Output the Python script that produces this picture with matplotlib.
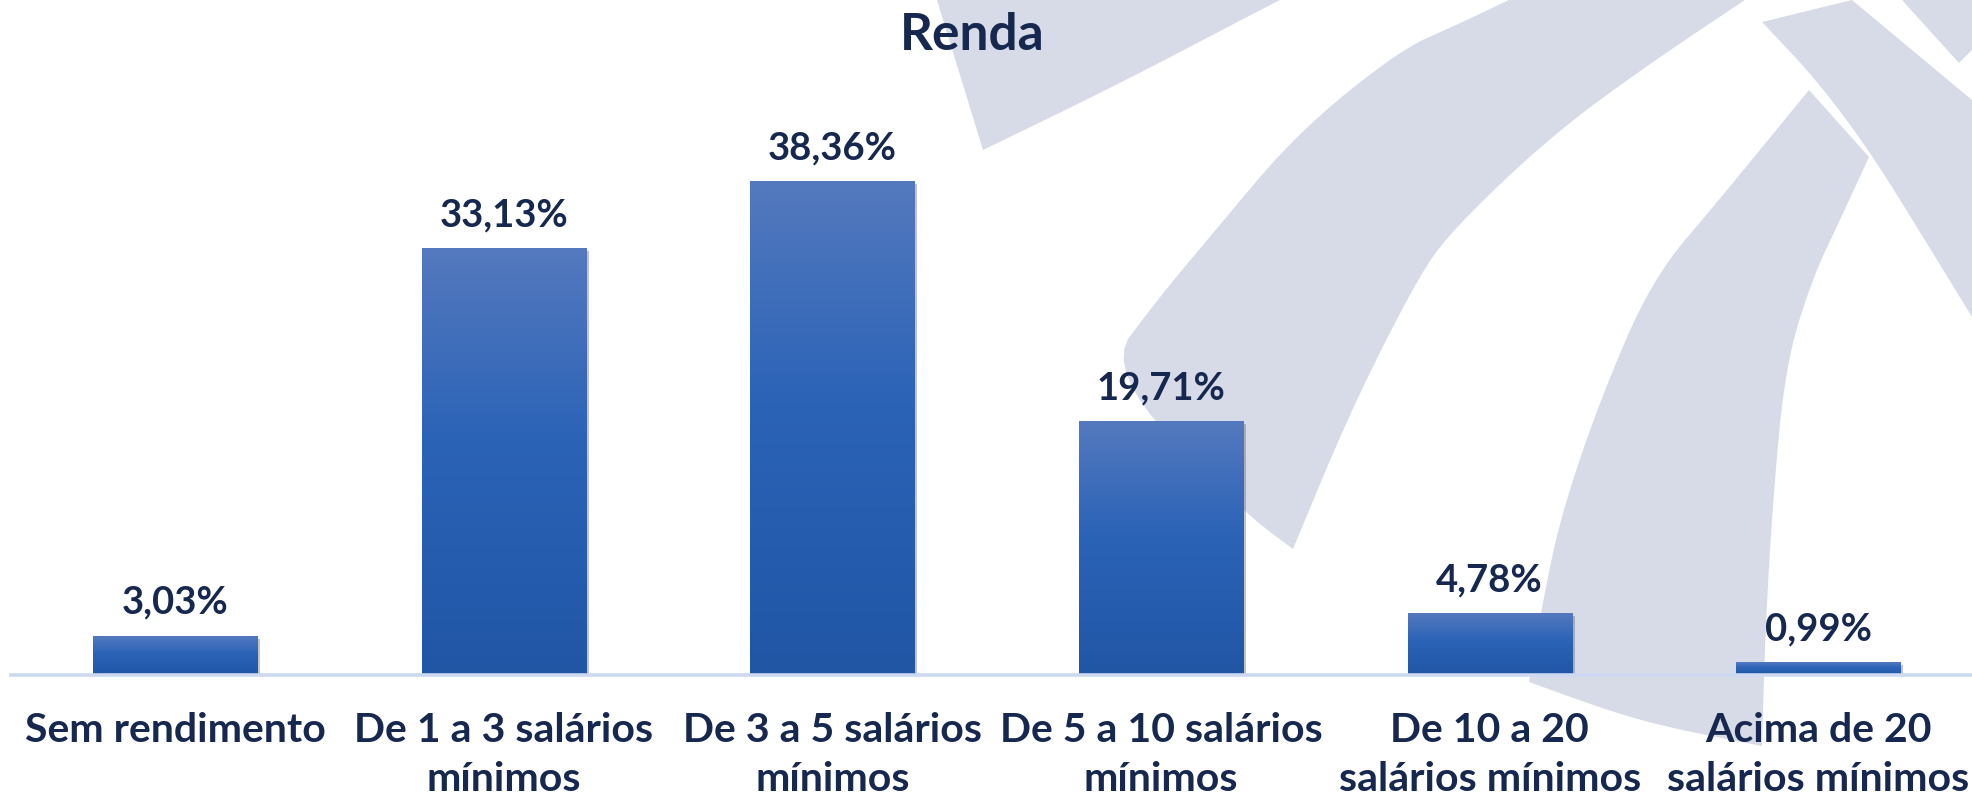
import numpy as np
import matplotlib.pyplot as plt
import matplotlib.patheffects as pe
from matplotlib.patches import Polygon
from matplotlib.colors import LinearSegmentedColormap

# data
categories = ["Sem rendimento",
              "De 1 a 3 salários\nmínimos",
              "De 3 a 5 salários\nmínimos",
              "De 5 a 10 salários\nmínimos",
              "De 10 a 20\nsalários mínimos",
              "Acima de 20\nsalários mínimos"]
values = [3.03, 33.13, 38.36, 19.71, 4.78, 0.99]
value_labels = ["3,03%", "33,13%", "38,36%", "19,71%", "4,78%", "0,99%"]
title = "Renda"

W, H = 1972, 799
navy = '#16284f'
plt.rcParams['font.family'] = ['Lato', 'DejaVu Sans']


def smooth(pts, sharp, n=3):
    # corner cutting, keeps the points flagged as sharp
    pts = [np.array(p, float) for p in pts]
    flags = list(sharp)
    for _ in range(n):
        out, fl = [], []
        m = len(pts)
        for i in range(m):
            p, a, b = pts[i], pts[i - 1], pts[(i + 1) % m]
            if flags[i]:
                out.append(p); fl.append(True)
            else:
                out += [0.75 * p + 0.25 * a, 0.75 * p + 0.25 * b]
                fl += [False, False]
        pts, flags = out, fl
    return np.array(pts)


fig = plt.figure(figsize=(W / 100, H / 100), dpi=100)
fig.patch.set_facecolor('white')

# faint logo watermark in the background (pixel coords, y down)
bg = fig.add_axes([0, 0, 1, 1])
bg.set_xlim(0, W)
bg.set_ylim(H, 0)
bg.axis('off')
watermark = [
    ([(937, 0), (983, 150), (1113, 87), (1247, 17), (1280, 0)],
     [1, 1, 0, 0, 1]),
    ([(1509, 0), (1452, 27), (1400, 50), (1297, 133), (1213, 233), (1157, 300),
      (1105, 370), (1243, 512), (1293, 549), (1350, 412), (1417, 279),
      (1452, 230), (1552, 135), (1652, 62), (1745, 0)],
     [1, 0, 0, 0, 0, 0, 0, 0, 1, 0, 0, 0, 0, 0, 1]),
    ([(1762, 22), (1852, 0), (1972, 100), (1972, 317), (1920, 232),
      (1869, 150), (1815, 78)],
     [1, 1, 1, 1, 0, 0, 0]),
    ([(1809, 90), (1869, 157), (1840, 220), (1812, 279), (1785, 367),
      (1772, 512), (1765, 640), (1762, 746), (1640, 722), (1529, 682),
      (1545, 590), (1562, 512), (1600, 400), (1652, 279), (1719, 200)],
     [1, 1, 0, 0, 0, 0, 0, 1, 0, 1, 0, 0, 0, 0, 0]),
    ([(1902, 0), (1972, 0), (1972, 50), (1959, 63)],
     [1, 1, 1, 1]),
]
for pts, sharp in watermark:
    bg.add_patch(Polygon(smooth(pts, sharp), closed=True, fc='#d7dbe7', ec='none'))

ax = fig.add_axes([11 / W, 124 / H, 1961 / W, 675 / H])
ax.patch.set_alpha(0)
x = np.arange(len(values))

bars = ax.bar(x, values, width=0.5, color='#2b63b6', zorder=2,
              path_effects=[pe.SimplePatchShadow(offset=(2, -2), shadow_rgbFace='#555555', alpha=0.35),
                            pe.Normal()])

cmap = LinearSegmentedColormap.from_list(
    'bar', [(0, '#2156a5'), (0.55, '#2b63b7'), (1, '#5479be')])
grad = np.linspace(0, 1, 256).reshape(-1, 1)
for b in bars:
    x0, w, h = b.get_x(), b.get_width(), b.get_height()
    ax.imshow(grad, extent=[x0, x0 + w, 0, h], origin='lower', cmap=cmap,
              aspect='auto', zorder=3, interpolation='bilinear')

for xi, v, lbl in zip(x, values, value_labels):
    ax.annotate(lbl, (xi, v), xytext=(0, 16), textcoords='offset points',
                ha='center', va='baseline', fontsize=27.5, fontweight='bold', color=navy)

ax.set_xlim(-0.5, -0.5 + 1961 / 328.6)
ax.set_ylim(0, 675 / 12.87)

for s in ['top', 'left', 'right']:
    ax.spines[s].set_visible(False)
ax.spines['bottom'].set_color('#ccd9f1')
ax.spines['bottom'].set_linewidth(2.6)
ax.spines['bottom'].set_zorder(4)
ax.set_yticks([])
ax.set_xticks(x, categories)
ax.tick_params(axis='x', length=0, pad=26.5, labelsize=29.5, labelcolor=navy)
for t in ax.get_xticklabels():
    t.set_fontweight('bold')
    t.set_linespacing(1.42)

fig.text(972 / W, 1 - 50 / H, title, ha='center', va='baseline',
         fontsize=37, fontweight='bold', color=navy)

fig.savefig('out.png', dpi=100)
